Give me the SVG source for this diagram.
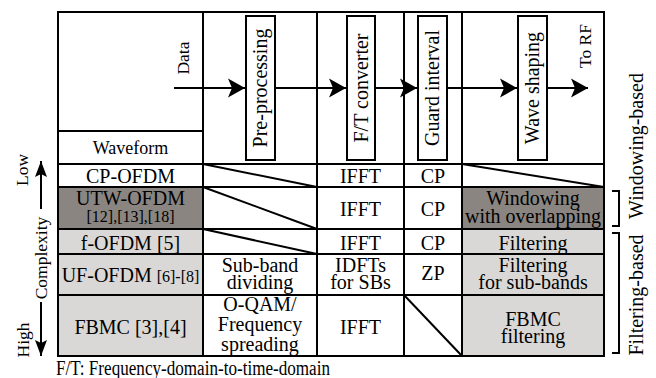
<svg xmlns="http://www.w3.org/2000/svg" width="656" height="378" viewBox="0 0 656 378">
  <defs>
    <style>
      text { font-family: "Liberation Serif", "Times New Roman", serif; font-size: 20px; fill: #000; }
      .c { text-anchor: middle; }
      .sm { font-size: 16px; }
      .mid { font-size: 18px; }
      .note { font-size: 17.5px; text-anchor: middle; }
      .grid { stroke: #000; stroke-width: 2; fill: none; stroke-linecap: square; }
      .diag { stroke: #000; stroke-width: 2; fill: none; }
      .box { fill: #fff; stroke: #000; stroke-width: 2; }
      .flow { stroke: #000; stroke-width: 2; fill: none; }
      .dark { fill: #8a8581; }
      .light { fill: #d9d8d6; }
      .brk { stroke: #000; stroke-width: 2; fill: none; }
    </style>
    <marker id="ah" markerUnits="userSpaceOnUse" viewBox="0 0 18 20" markerWidth="18" markerHeight="20" refX="17" refY="10" orient="auto">
      <path d="M17,10 L0,0.5 L4,10 L0,19.5 Z" fill="#000"/>
    </marker>
    <marker id="ahs" markerUnits="userSpaceOnUse" viewBox="0 0 17 12" markerWidth="17" markerHeight="12" refX="16" refY="6" orient="auto">
      <path d="M16,6 L0,0 L3,6 L0,12 Z" fill="#000"/>
    </marker>
  </defs>

  <!-- shaded cells -->
  <g id="shading">
    <rect class="dark" x="58" y="187" width="145" height="42"/>
    <rect class="dark" x="462" y="187" width="142" height="42"/>
    <rect class="light" x="58" y="229" width="145" height="127"/>
    <rect class="light" x="462" y="229" width="142" height="127"/>
  </g>

  <!-- table grid -->
  <g id="grid">
    <rect class="grid" x="58" y="12" width="546" height="344"/>
    <path class="grid" d="M203,12 V356 M317,12 V356 M404,12 V356 M462,12 V356"/>
    <path class="grid" d="M58,131 H203 M58,164 H604 M58,187 H604 M58,229 H604 M58,254 H604 M58,295 H604"/>
  </g>

  <!-- empty (not applicable) cells -->
  <g id="na-cells">
    <line class="diag" x1="203" y1="164" x2="317" y2="187"/>
    <line class="diag" x1="203" y1="187" x2="317" y2="229"/>
    <line class="diag" x1="203" y1="229" x2="317" y2="254"/>
    <line class="diag" x1="462" y1="164" x2="604" y2="187"/>
    <line class="diag" x1="404" y1="295" x2="462" y2="356"/>
  </g>

  <!-- signal chain arrows -->
  <g id="connectors">
    <line class="flow" x1="174" y1="88" x2="245" y2="88" marker-end="url(#ah)"/>
    <line class="flow" x1="275" y1="88" x2="346" y2="88" marker-end="url(#ah)"/>
    <line class="flow" x1="375" y1="88" x2="417" y2="88" marker-end="url(#ah)"/>
    <line class="flow" x1="447" y1="88" x2="517" y2="88" marker-end="url(#ah)"/>
    <line class="flow" x1="547" y1="88" x2="588" y2="88" marker-end="url(#ah)"/>
  </g>

  <!-- processing blocks -->
  <g id="data-in">
    <text class="note" x="189" y="58" transform="rotate(-90 189 58)">Data</text>
  </g>
  <g id="pre-processing">
    <rect class="box" x="246" y="16" width="29" height="144"/>
    <text class="c" x="267" y="88" transform="rotate(-90 267 88)">Pre-processing</text>
  </g>
  <g id="ft-converter">
    <rect class="box" x="347" y="16" width="28" height="144"/>
    <text class="c" x="368" y="88" transform="rotate(-90 368 88)">F/T converter</text>
  </g>
  <g id="guard-interval">
    <rect class="box" x="418" y="16" width="29" height="144"/>
    <text class="c" x="439" y="88" transform="rotate(-90 439 88)">Guard interval</text>
  </g>
  <g id="wave-shaping">
    <rect class="box" x="518" y="16" width="29" height="144"/>
    <text class="c" x="539" y="88" transform="rotate(-90 539 88)">Wave shaping</text>
  </g>
  <g id="rf-out">
    <text class="note" x="591" y="46" transform="rotate(-90 591 46)">To RF</text>
  </g>

  <!-- table contents -->
  <g id="header-waveform">
    <text class="c mid" x="130.5" y="154">Waveform</text>
  </g>
  <g id="row-cp-ofdm">
    <text class="c" x="130.5" y="183">CP-OFDM</text>
    <text class="c" x="360.5" y="183">IFFT</text>
    <text class="c" x="433" y="183">CP</text>
  </g>
  <g id="row-utw-ofdm">
    <text class="c" x="130.5" y="205">UTW-OFDM</text>
    <text class="c sm" x="130.5" y="222">[12],[13],[18]</text>
    <text class="c" x="360.5" y="216">IFFT</text>
    <text class="c" x="433" y="216">CP</text>
    <text class="c" x="533" y="205">Windowing</text>
    <text class="c" x="533" y="223">with overlapping</text>
  </g>
  <g id="row-f-ofdm">
    <text class="c" x="130.5" y="250">f-OFDM [5]</text>
    <text class="c" x="360.5" y="250">IFFT</text>
    <text class="c" x="433" y="250">CP</text>
    <text class="c" x="533" y="250">Filtering</text>
  </g>
  <g id="row-uf-ofdm">
    <text class="c" x="130.5" y="282">UF-OFDM <tspan class="sm">[6]-[8]</tspan></text>
    <text class="c" x="260" y="272">Sub-band</text>
    <text class="c" x="260" y="289">dividing</text>
    <text class="c" x="360.5" y="272">IDFTs</text>
    <text class="c" x="360.5" y="289">for SBs</text>
    <text class="c" x="433" y="280">ZP</text>
    <text class="c" x="533" y="272">Filtering</text>
    <text class="c" x="533" y="289">for sub-bands</text>
  </g>
  <g id="row-fbmc">
    <text class="c" x="130.5" y="334">FBMC [3],[4]</text>
    <text class="c" x="260" y="311">O-QAM/</text>
    <text class="c" x="260" y="331">Frequency</text>
    <text class="c" x="260" y="351">spreading</text>
    <text class="c" x="360.5" y="334">IFFT</text>
    <text class="c" x="533" y="326">FBMC</text>
    <text class="c" x="533" y="343">filtering</text>
  </g>

  <!-- complexity axis -->
  <g id="complexity-axis">
    <text class="note" x="28" y="170" transform="rotate(-90 28 170)">Low</text>
    <line class="flow" x1="41" y1="209" x2="41" y2="161" marker-end="url(#ahs)"/>
    <text class="note" x="47" y="258" transform="rotate(-90 47 258)">Complexity</text>
    <line class="flow" x1="41" y1="302" x2="41" y2="356" marker-end="url(#ahs)"/>
    <text class="note" x="29" y="340" transform="rotate(-90 29 340)">High</text>
  </g>

  <!-- category brackets -->
  <g id="windowing-based">
    <path class="brk" d="M612,191 H619 V226 H612"/>
    <text class="c" x="643" y="146" transform="rotate(-90 643 146)">Windowing-based</text>
  </g>
  <g id="filtering-based">
    <path class="brk" d="M612,233 H619 V353 H612"/>
    <text class="c" x="643" y="295" transform="rotate(-90 643 295)">Filtering-based</text>
  </g>

  <g id="footnote">
    <text x="56" y="375" textLength="274" lengthAdjust="spacingAndGlyphs">F/T: Frequency-domain-to-time-domain</text>
  </g>
</svg>
